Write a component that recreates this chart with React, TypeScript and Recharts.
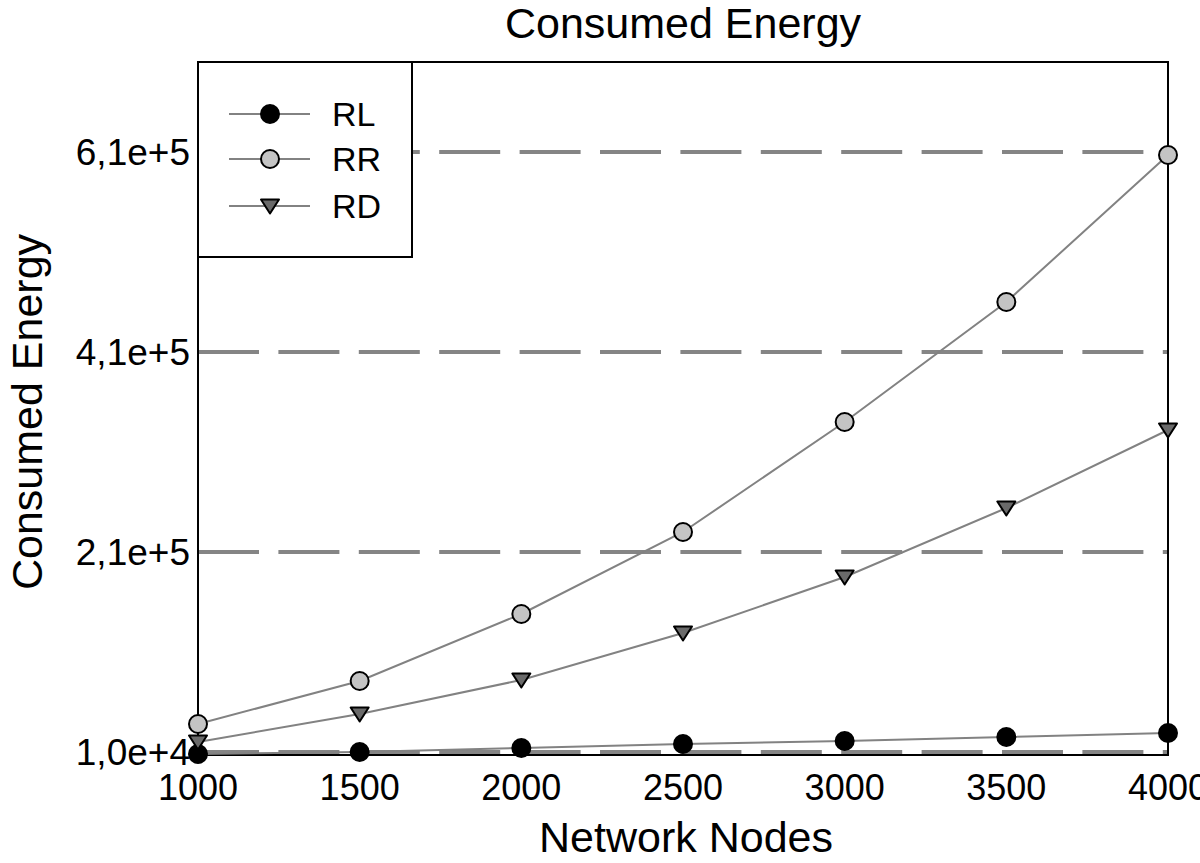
import React from 'react';
import { LineChart, Line, XAxis, YAxis, CartesianGrid, Legend, ReferenceArea, Label } from 'recharts';

const nodes = [1000, 1500, 2000, 2500, 3000, 3500, 4000];
const rlValues = [8000, 10000, 14000, 18000, 21000, 25000, 29000];
const rrValues = [38000, 81000, 148000, 230000, 340000, 460000, 607000];
const rdValues = [20000, 48000, 82000, 129000, 185000, 254000, 332000];
const yTicks = [10000, 210000, 410000, 610000];
const yTickLabels = ['1,0e+4', '2,1e+5', '4,1e+5', '6,1e+5'];
const xTicks = [1000, 1500, 2000, 2500, 3000, 3500, 4000];
const seriesNames = ['RL', 'RR', 'RD'];
const seriesFills = ['#000000', '#c4c4c4', '#6a6a6a'];
const seriesShapes = ['circle', 'circle', 'triangle'];

const data = nodes.map((n, i) => ({ n, RL: rlValues[i], RR: rrValues[i], RD: rdValues[i] }));

const FONT = '"Liberation Sans", Arial, Helvetica, sans-serif';
const LINE_COLOR = '#828282';

function Marker({ cx, cy, shape, fill }: { cx: number; cy: number; shape: string; fill: string }) {
  if (shape === 'triangle') {
    const d = `M${cx - 9},${cy - 6.5} L${cx + 9},${cy - 6.5} L${cx},${cy + 7.5} Z`;
    return <path d={d} fill={fill} stroke="#000" strokeWidth={2} strokeLinejoin="round" />;
  }
  return <circle cx={cx} cy={cy} r={9} fill={fill} stroke="#000" strokeWidth={2} />;
}

const makeDot = (idx: number) => (props: any) => {
  const { cx, cy, index } = props;
  if (cx == null || cy == null) return <g key={`d-${idx}-${index}`} />;
  return (
    <g key={`d-${idx}-${index}`}>
      <Marker cx={cx} cy={cy} shape={seriesShapes[idx]} fill={seriesFills[idx]} />
    </g>
  );
};

const renderLegend = () => (
  <div
    style={{
      width: 216,
      height: 197,
      boxSizing: 'border-box',
      border: '2px solid #000',
      background: '#fff',
    }}
  >
    <svg width={212} height={193} style={{ display: 'block' }}>
      {seriesNames.map((name, i) => {
        const y = [51, 96, 143][i];
        return (
          <g key={name}>
            <line x1={30} x2={111} y1={y} y2={y} stroke={LINE_COLOR} strokeWidth={2} />
            <Marker cx={71} cy={y} shape={seriesShapes[i]} fill={seriesFills[i]} />
            <text x={133} y={y} dy="0.36em" fontSize={34} fontFamily={FONT} fill="#000">
              {name}
            </text>
          </g>
        );
      })}
    </svg>
  </div>
);

export default function App() {
  return (
    <div
      style={{
        position: 'absolute',
        left: 0,
        top: 0,
        width: 1200,
        height: 863,
        overflow: 'hidden',
        background: '#fff',
        fontFamily: FONT,
      }}
    >
      <LineChart
        width={1200}
        height={863}
        data={data}
        margin={{ top: 62, right: 32, bottom: 0, left: 0 }}
      >
        <text x={683} y={38} textAnchor="middle" fontSize={43} fontFamily={FONT} fill="#000">
          Consumed Energy
        </text>
        <CartesianGrid
          horizontal
          vertical={false}
          syncWithTicks
          stroke="#858585"
          strokeWidth={4}
          strokeDasharray="61 19.4"
        />
        <XAxis
          dataKey="n"
          type="number"
          domain={[1000, 4000]}
          ticks={xTicks}
          height={108}
          axisLine={false}
          tickLine={false}
          tickSize={0}
          tickMargin={19}
          tick={{ fontSize: 36, fill: '#000', fontFamily: FONT }}
          interval={0}
        >
          <Label
            content={() => (
              <text x={686} y={852} textAnchor="middle" fontSize={43} fontFamily={FONT} fill="#000">
                Network Nodes
              </text>
            )}
          />
        </XAxis>
        <YAxis
          type="number"
          domain={[7000, 700000]}
          ticks={yTicks}
          width={198}
          axisLine={false}
          tickLine={false}
          tickSize={0}
          tickMargin={8}
          interval={0}
          tick={{ fontSize: 37, fill: '#000', fontFamily: FONT }}
          tickFormatter={(v: number) => {
            const i = yTicks.indexOf(v);
            return i >= 0 ? yTickLabels[i] : String(v);
          }}
        >
          <Label
            content={() => (
              <text
                x={0}
                y={0}
                transform="translate(42,412) rotate(-90)"
                textAnchor="middle"
                fontSize={43}
                fontFamily={FONT}
                fill="#000"
              >
                Consumed Energy
              </text>
            )}
          />
        </YAxis>
        <ReferenceArea
          x1={1000}
          x2={4000}
          y1={7000}
          y2={700000}
          fill="none"
          fillOpacity={0}
          stroke="#000"
          strokeWidth={2}
          ifOverflow="visible"
        />
        {seriesNames.map((name, i) => (
          <Line
            key={name}
            dataKey={name}
            type="linear"
            stroke={LINE_COLOR}
            strokeWidth={2}
            dot={makeDot(i)}
            activeDot={false}
            isAnimationActive={false}
          />
        ))}
        <Legend
          layout="vertical"
          align="center"
          verticalAlign="middle"
          content={renderLegend}
          wrapperStyle={{ position: 'absolute', left: 197, top: 61, width: 216, height: 197, margin: 0 }}
        />
      </LineChart>
    </div>
  );
}
